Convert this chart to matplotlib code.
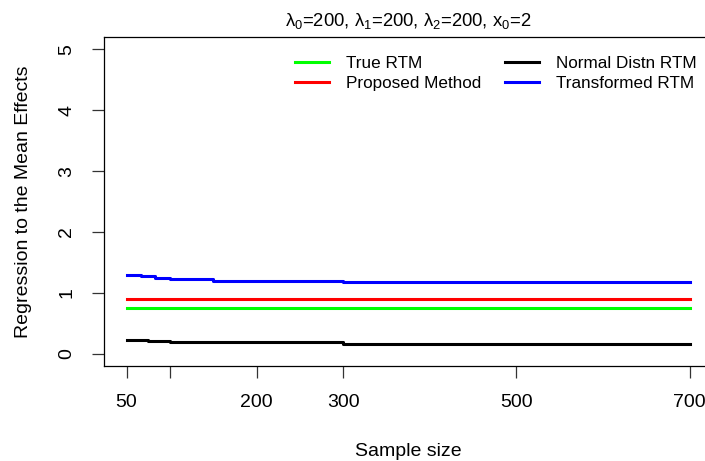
import numpy as np
import matplotlib
matplotlib.use("Agg")
import matplotlib.pyplot as plt

plt.rcParams['font.family'] = ['Liberation Sans', 'DejaVu Sans']
plt.rcParams['mathtext.fontset'] = 'custom'
plt.rcParams['mathtext.rm'] = 'Liberation Sans'
plt.rcParams['mathtext.it'] = 'Liberation Sans'

# sample sizes where the estimates were computed
sample_size = [50, 67, 75, 83, 100, 150, 200, 300, 400, 500, 600, 700]

true_rtm = [0.745] * len(sample_size)
proposed = [0.89] * len(sample_size)
normal_rtm = [0.225, 0.225, 0.21, 0.21, 0.195, 0.195, 0.195,
              0.165, 0.165, 0.165, 0.165, 0.165]
transformed_rtm = [1.29, 1.27, 1.27, 1.245, 1.22, 1.20, 1.20,
                   1.18, 1.18, 1.18, 1.18, 1.18]

x_ticks = [50, 100, 200, 300, 500, 700]
x_labels = ['50', '', '200', '300', '500', '700']
y_ticks = [0, 1, 2, 3, 4, 5]

fig = plt.figure(figsize=(7.05, 4.61), dpi=100)
ax = fig.add_axes([104 / 705, 1 - 365.7 / 461, 608.3 / 705, 328.4 / 461])

lw = 2.2
ax.step(sample_size, true_rtm, where='post', color='#00ff00', lw=lw, label='True RTM')
ax.step(sample_size, proposed, where='post', color='#ff0000', lw=lw, label='Proposed Method')
ax.step(sample_size, normal_rtm, where='post', color='black', lw=lw, label='Normal Distn RTM')
ax.step(sample_size, transformed_rtm, where='post', color='#0000ff', lw=lw, label='Transformed RTM')

ax.set_xlim(24, 726)
ax.set_ylim(-0.2, 5.2)
ax.set_xticks(x_ticks)
ax.set_xticklabels(x_labels)
ax.set_yticks(y_ticks)
ax.set_yticklabels([str(v) for v in y_ticks], rotation=90, va='center')
ax.tick_params(axis='both', length=8.6, width=0.9, pad=12, labelsize=14, color='#333333')

for side in ['left', 'bottom', 'top']:
    ax.spines[side].set_linewidth(0.9)
ax.spines['right'].set_visible(False)

ax.set_xlabel('Sample size', fontsize=14, labelpad=23)
ax.set_ylabel('Regression to the Mean Effects', fontsize=14, labelpad=19)
ax.set_title(r'$\mathregular{λ_0}$=200, $\mathregular{λ_1}$=200, '
             r'$\mathregular{λ_2}$=200, $\mathregular{x_0}$=2', fontsize=13.3, pad=8)

ax.legend(ncol=2, frameon=False, fontsize=12.3, loc='upper left',
          bbox_to_anchor=(295 / 705, 1 - 56 / 461), bbox_transform=fig.transFigure,
          borderaxespad=0, borderpad=0, handlelength=2.0, handletextpad=1.0,
          columnspacing=1.35, labelspacing=0.3)

fig.savefig('out.png', dpi=100)
